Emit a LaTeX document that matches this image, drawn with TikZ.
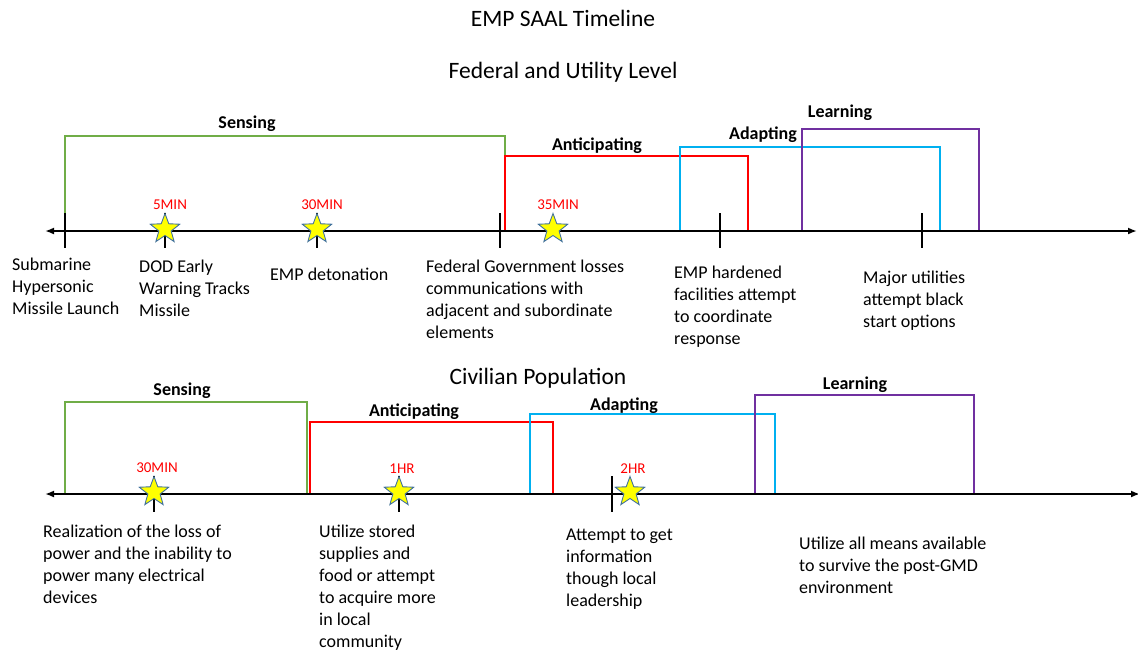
\documentclass[tikz,border=0pt]{standalone}
\usepackage{fontspec}
\setmainfont{Carlito}
\usetikzlibrary{arrows.meta,shapes.geometric,positioning}
\definecolor{saalsense}{HTML}{70AD47}
\definecolor{saalanti}{HTML}{FF0000}
\definecolor{saaladapt}{HTML}{00B0F0}
\definecolor{saallearn}{HTML}{7030A0}
\definecolor{saalstar}{HTML}{FFFF00}
\definecolor{saalstaredge}{HTML}{41719C}
\tikzset{
  timeaxis/.style={draw=black,line width=2.6pt,{Latex[length=9pt,width=7pt]}-{Latex[length=9pt,width=7pt]}},
  phasebar/.style={line width=2pt},
  tickmark/.style={draw=black,line width=1.3pt},
  eventstar/.style={star,star points=5,star point ratio=2.4,minimum size=31pt,
    inner sep=0pt,fill=saalstar,draw=saalstaredge,line width=0.9pt},
  timelabel/.style={font=\fontsize{15}{15}\selectfont,text=saalanti,inner sep=0pt},
  phaselabel/.style={font=\fontsize{18}{18}\selectfont\bfseries,inner sep=0pt},
  eventtext/.style={font=\fontsize{18}{22}\selectfont,align=left,anchor=north west,inner sep=0pt},
  headtext/.style={font=\fontsize{23.5}{23.5}\selectfont,inner sep=0pt},
}
\begin{document}
\begin{tikzpicture}[x=1pt,y=-1pt]
  \useasboundingbox (0,0) rectangle (1138,651);
  % headings
  \node[headtext] (title) at (563,18) {EMP SAAL Timeline};
  \node[headtext] (fedhead) at (563,72) {Federal and Utility Level};
  \node[headtext] (civhead) at (538,378) {Civilian Population};
  % federal and utility timeline
  \foreach \c/\xa/\xb/\yt in {saalsense/65/505/136,saalanti/505/748/156,
      saaladapt/680/940/147,saallearn/802/979/129}
    {\draw[phasebar,draw=\c] (\xa,231) |- (\xb,\yt) -- (\xb,231);}
  \foreach \n/\x/\y/\t in {fsen/247/124/Sensing,fant/597/146/Anticipating,
      fada/763/135/Adapting,flea/840/113/Learning}
    {\node[phaselabel] (\n) at (\x,\y) {\t};}
  \coordinate (fL) at (45,231);
  \coordinate (fR) at (1137,231);
  \draw[timeaxis] (fL) -- (fR);
  \foreach \x in {65,165,317,500,720,922} {\draw[tickmark] (\x,213) -- (\x,248);}
  \foreach \i/\x/\t in {1/165/5MIN,2/317/30MIN,3/553/35MIN}
    {\node[eventstar] (fs\i) at (\x,229) {};
     \node[timelabel,above=2pt of fs\i,xshift=5pt] (ft\i) {\t};}
  \foreach \n/\x/\y/\t in {fsub/12/258/{Submarine\\Hypersonic\\Missile Launch},
      fdod/139/260/{DOD Early\\Warning Tracks\\Missile},
      fdet/270/268/{EMP detonation},
      fgov/426/260/{Federal Government losses\\communications with\\adjacent and subordinate\\elements},
      fhar/674/266/{EMP hardened\\facilities attempt\\to coordinate\\response},
      futi/863/271/{Major utilities\\attempt black\\start options}}
    {\node[eventtext] (\n) at (\x,\y) {\t};}
  % civilian population timeline
  \foreach \c/\xa/\xb/\yt in {saalsense/65/307/402,saalanti/310/553/422,
      saaladapt/530/775/414,saallearn/755/974/395}
    {\draw[phasebar,draw=\c] (\xa,494) |- (\xb,\yt) -- (\xb,494);}
  \foreach \n/\x/\y/\t in {csen/182/391/Sensing,cant/414/412/Anticipating,
      cada/624/406/Adapting,clea/855/385/Learning}
    {\node[phaselabel] (\n) at (\x,\y) {\t};}
  \coordinate (cL) at (45,494);
  \coordinate (cR) at (1140,494);
  \draw[timeaxis] (cL) -- (cR);
  \foreach \x in {154,399,612} {\draw[tickmark] (\x,476) -- (\x,512);}
  \foreach \i/\x/\t in {1/154/30MIN,2/399/1HR,3/630/2HR}
    {\node[eventstar] (cs\i) at (\x,492) {};
     \node[timelabel,above=2pt of cs\i,xshift=3pt] (ct\i) {\t};}
  \foreach \n/\x/\y/\t in {creal/43/525/{Realization of the loss of\\power and the inability to\\power many electrical\\devices},
      csto/319/525/{Utilize stored\\supplies and\\food or attempt\\to acquire more\\in local\\community},
      cinf/566/529/{Attempt to get\\information\\though local\\leadership},
      cmea/799/537/{Utilize all means available\\to survive the post-GMD\\environment}}
    {\node[eventtext] (\n) at (\x,\y) {\t};}
\end{tikzpicture}
\end{document}
